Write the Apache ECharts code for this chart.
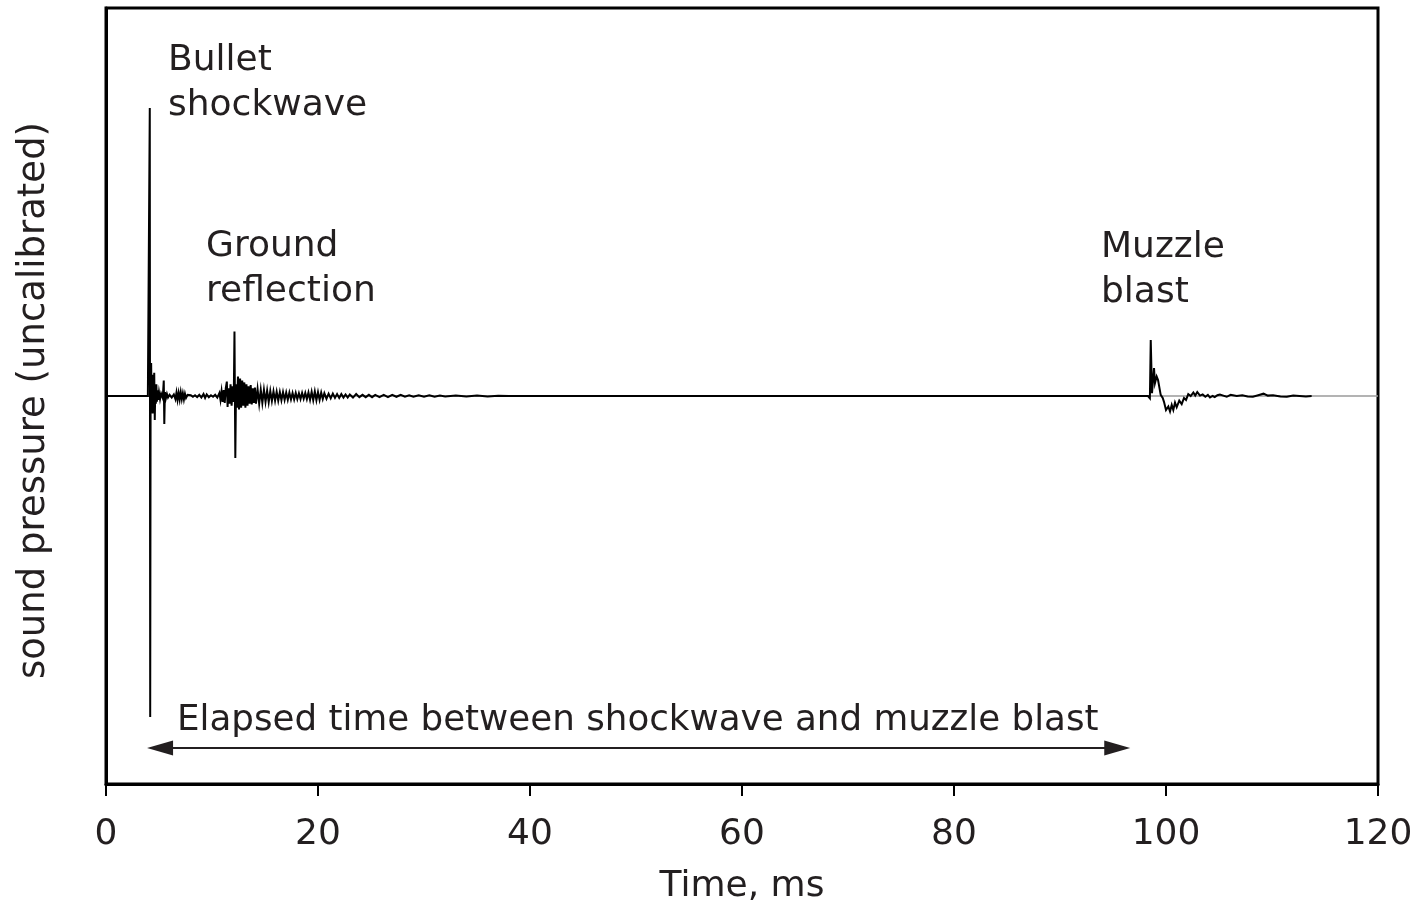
<!DOCTYPE html>
<html>
<head>
<meta charset="utf-8">
<script src="https://cdn.jsdelivr.net/npm/echarts@6/dist/echarts.min.js"></script>
<style>
html,body{margin:0;padding:0;background:#fff;}
#chart{width:1420px;height:903px;}
</style>
</head>
<body>
<div id="chart"></div>
<script>
// ---- data ----
var xTicks = [0, 20, 40, 60, 80, 100, 120];

// waveform: time (ms) and uncalibrated sound pressure
var timeMs = [
  0, 3.95, 4.10, 4.13, 4.17, 4.21, 4.26, 4.30, 4.35, 4.40, 4.45, 4.50, 4.55, 4.60, 4.65, 4.70, 4.75, 4.80, 4.85, 4.92,
  5.00, 5.10, 5.20, 5.35, 5.45, 5.50, 5.56, 5.65, 5.75, 5.85, 6.00, 6.20, 6.40, 6.55, 6.65, 6.75, 6.85, 6.95, 7.05, 7.15,
  7.25, 7.35, 7.45, 7.55, 7.70, 7.85, 8.00, 8.20, 8.40, 8.60, 8.80, 9.00, 9.20, 9.35, 9.50, 9.70, 9.90, 10.10, 10.30, 10.50,
  10.70, 10.80, 10.90, 11.00, 11.10, 11.20, 11.30, 11.40, 11.47, 11.55, 11.65, 11.75, 11.85, 11.95, 12.05, 12.12, 12.20, 12.27, 12.35, 12.45,
  12.55, 12.65, 12.75, 12.85, 12.95, 13.05, 13.15, 13.25, 13.35, 13.45, 13.55, 13.65, 13.75, 13.85, 13.95, 14.05, 14.15, 14.30, 14.45, 14.60,
  14.75, 14.90, 15.05, 15.20, 15.35, 15.50, 15.65, 15.80, 15.95, 16.10, 16.25, 16.40, 16.55, 16.70, 16.85, 17.00, 17.15, 17.30, 17.45, 17.60,
  17.75, 17.90, 18.05, 18.20, 18.35, 18.50, 18.65, 18.80, 18.95, 19.10, 19.25, 19.40, 19.55, 19.70, 19.85, 20.00, 20.15, 20.30, 20.45, 20.60,
  20.80, 21.00, 21.20, 21.40, 21.60, 21.80, 22.00, 22.20, 22.40, 22.60, 22.80, 23.00, 23.30, 23.60, 23.90, 24.20, 24.50, 24.80, 25.10, 25.40,
  25.80, 26.20, 26.60, 27.00, 27.40, 27.80, 28.20, 28.60, 29.00, 29.50, 30.00, 30.50, 31.00, 31.50, 32.00, 33.00, 34.00, 35.00, 36.00, 37.00,
  38.00, 98.30, 98.40, 98.48, 98.56, 98.68, 98.87, 98.96, 99.12, 99.25, 99.50, 99.69, 99.81, 100.00, 100.22, 100.38, 100.54, 100.69, 100.85, 101.01,
  101.25, 101.48, 101.70, 101.89, 102.10, 102.33, 102.58, 102.76, 102.95, 103.21, 103.46, 103.71, 103.95, 104.15, 104.40, 104.60, 104.85, 105.09, 105.40, 105.73,
  106.10, 106.67, 107.20, 107.70, 108.20, 108.70, 109.20, 109.60, 110.10, 110.80, 111.40, 112.00, 112.60, 113.20, 113.74
];
var pressure = [
  0, 0, 0, 0.742, -0.827, 0.03, 0.085, -0.02, 0.04, -0.045, 0.055, -0.03, 0.06, -0.062, 0.02, -0.02, 0.03, -0.015, 0.015, -0.01,
  0.01, -0.008, 0.006, -0.005, 0.04, -0.072, 0.01, -0.006, 0.005, -0.004, 0.003, -0.004, 0.004, -0.008, 0.009, -0.01, 0.008, -0.009, 0.01, -0.008,
  0.007, -0.009, 0.006, -0.005, 0.003, -0.002, 0.002, -0.002, 0.002, -0.003, 0.003, -0.004, 0.005, -0.005, 0.004, -0.003, 0.002, -0.002, 0.003, -0.004,
  0.008, -0.01, 0.012, -0.015, 0.015, -0.018, 0.02, 0.037, -0.028, 0.02, -0.02, 0.03, -0.025, 0.025, -0.015, 0.166, -0.16, 0.03, -0.03, 0.05,
  -0.035, 0.045, -0.03, 0.04, -0.025, 0.035, -0.03, 0.03, -0.025, 0.025, -0.02, 0.028, -0.022, 0.02, -0.018, 0.022, -0.02, 0.018, -0.02, 0.016,
  -0.018, 0.016, -0.015, 0.014, -0.016, 0.013, -0.013, 0.012, -0.012, 0.011, -0.012, 0.01, -0.011, 0.01, -0.01, 0.009, -0.01, 0.009, -0.009, 0.008,
  -0.009, 0.008, -0.008, 0.007, -0.008, 0.008, -0.007, 0.008, -0.008, 0.009, -0.01, 0.011, -0.011, 0.012, -0.011, 0.01, -0.01, 0.009, -0.008, 0.007,
  -0.007, 0.006, -0.006, 0.006, -0.005, 0.005, -0.005, 0.005, -0.004, 0.004, -0.004, 0.004, -0.004, 0.005, -0.003, 0.003, -0.003, 0.003, -0.003, 0.003,
  -0.003, 0.003, -0.003, 0.003, -0.002, 0.003, -0.002, 0.002, -0.002, 0.002, -0.002, 0.002, -0.002, 0.001, -0.001, 0.001, -0.001, 0.001, -0.001, 0.0005,
  0, 0, -0.003, -0.006, 0.144, 0.007, 0.072, 0.033, 0.05, 0.041, 0.003, -0.005, -0.015, -0.036, -0.027, -0.04, -0.023, -0.036, -0.017, -0.029,
  -0.012, -0.021, -0.005, -0.01, 0.005, 0.0, 0.009, 0.001, 0.01, 0.001, 0.004, -0.002, 0.003, -0.004, 0.0, -0.003, 0.002, 0.004, 0.001, -0.002,
  0.003, 0.0, 0.002, -0.001, -0.002, 0.002, 0.006, 0.001, 0.002, -0.001, -0.002, 0.001, 0.0, -0.001, 0
];

// zero reference line (grey) and the elapsed-time arrow
var baselineTimes = [0, 120];
var arrowTimes = [5.1, 95.4];
var arrowLevel = -0.907;

// annotation texts
var labelShock = 'Bullet\nshockwave';
var labelGround = 'Ground\nreflection';
var labelMuzzle = 'Muzzle\nblast';
var labelElapsed = 'Elapsed time between shockwave and muzzle blast';
var xName = 'Time, ms';
var yName = 'sound pressure (uncalibrated)';

// ---- chart ----
var FONT = 'DejaVu Sans';
var TXT = '#231f20';
var signal = timeMs.map(function (t, i) { return [t, pressure[i]]; });
var baseline = baselineTimes.map(function (t) { return [t, 0]; });

var chart = echarts.init(document.getElementById('chart'), null, {renderer: 'canvas'});
chart.setOption({
  animation: false,
  backgroundColor: '#ffffff',
  grid: {left: 106, right: 42, top: 8, bottom: 119, show: true, borderColor: '#000', borderWidth: 3,
         backgroundColor: 'transparent', containLabel: false, outerBoundsMode: 'none'},
  xAxis: {
    type: 'value', min: xTicks[0], max: xTicks[xTicks.length - 1], interval: 20,
    name: xName, nameLocation: 'middle', nameGap: 85,
    nameTextStyle: {fontFamily: FONT, fontSize: 36, color: TXT},
    axisLine: {show: true, onZero: false, lineStyle: {color: '#000', width: 3}},
    axisTick: {show: true, length: 12, lineStyle: {color: '#000', width: 2}},
    axisLabel: {margin: 51, fontFamily: FONT, fontSize: 36, color: TXT, verticalAlign: 'middle', lineHeight: 36},
    splitLine: {show: false}
  },
  yAxis: {
    type: 'value', min: -1, max: 1,
    name: yName, nameLocation: 'middle', nameGap: 72, nameRotate: 90,
    nameTextStyle: {fontFamily: FONT, fontSize: 37, color: TXT, verticalAlign: 'middle', padding: [0, 9, 0, 0]},
    axisLine: {show: true, onZero: false, lineStyle: {color: '#000', width: 3}},
    axisTick: {show: false}, axisLabel: {show: false}, splitLine: {show: false}
  },
  series: [
    {
      type: 'line', data: baseline, showSymbol: false, z: 1,
      lineStyle: {color: '#9a9a9a', width: 1.5}, silent: true,
      markLine: {
        silent: true, symbol: ['triangle', 'triangle'], symbolSize: [15, 26],
        label: {show: false},
        lineStyle: {color: '#231f20', width: 2, type: 'solid'},
        data: [[{coord: [arrowTimes[0], arrowLevel]}, {coord: [arrowTimes[1], arrowLevel]}]]
      }
    },
    {
      type: 'line', data: signal, showSymbol: false, z: 3, sampling: null,
      lineStyle: {color: '#000', width: 2, join: 'miter'}
    }
  ],
  graphic: [
    {type: 'text', left: 168, top: 38, style: {text: labelShock, fontFamily: FONT, fontSize: 36, lineHeight: 45, fill: TXT}},
    {type: 'text', left: 206, top: 224, style: {text: labelGround, fontFamily: FONT, fontSize: 36, lineHeight: 45, fill: TXT}},
    {type: 'text', left: 1101, top: 225, style: {text: labelMuzzle, fontFamily: FONT, fontSize: 36, lineHeight: 45, fill: TXT}},
    {type: 'text', left: 177, top: 699, style: {text: labelElapsed, fontFamily: FONT, fontSize: 35.7, lineHeight: 44, fill: TXT}}
  ]
});
</script>
</body>
</html>
